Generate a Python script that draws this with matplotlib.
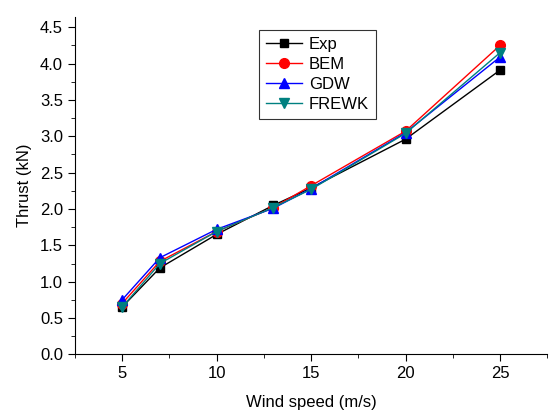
import matplotlib
matplotlib.use("Agg")
import matplotlib.pyplot as plt
from matplotlib.ticker import MultipleLocator, FormatStrFormatter

plt.rcParams['font.family'] = ['Liberation Sans', 'DejaVu Sans']

# Wind speed (m/s) and thrust (kN)
wind_speed = [5, 7, 10, 13, 15, 20, 25]
thrust_exp = [0.65, 1.19, 1.65, 2.05, 2.29, 2.96, 3.91]
thrust_bem = [0.70, 1.28, 1.69, 2.02, 2.32, 3.07, 4.25]
thrust_gdw = [0.75, 1.33, 1.72, 2.01, 2.28, 3.05, 4.09]
thrust_frewk = [0.65, 1.25, 1.69, 2.02, 2.27, 3.04, 4.15]

fig = plt.figure(figsize=(5.5, 4.16), dpi=100)
ax = fig.add_axes([0.136, 0.148, 0.859, 0.811])

ax.plot(wind_speed, thrust_exp, '-s', color='black', markersize=6, linewidth=1, label='Exp')
ax.plot(wind_speed, thrust_bem, '-o', color='red', markersize=7, linewidth=1, label='BEM')
ax.plot(wind_speed, thrust_gdw, '-^', color='blue', markersize=7, linewidth=1, label='GDW')
ax.plot(wind_speed, thrust_frewk, '-v', color='#008080', markersize=7, linewidth=1, label='FREWK')

ax.set_xlim(2.5, 27.5)
ax.set_ylim(0, 4.64)
ax.xaxis.set_major_locator(MultipleLocator(5))
ax.xaxis.set_minor_locator(MultipleLocator(2.5))
ax.yaxis.set_major_locator(MultipleLocator(0.5))
ax.yaxis.set_minor_locator(MultipleLocator(0.25))
ax.yaxis.set_major_formatter(FormatStrFormatter('%.1f'))

ax.spines['top'].set_visible(False)
ax.spines['right'].set_visible(False)
ax.tick_params(which='major', direction='out', length=5, labelsize=12)
ax.tick_params(which='minor', direction='out', length=3)

ax.set_xlabel('Wind speed (m/s)', fontsize=12, labelpad=10)
ax.set_ylabel('Thrust (kN)', fontsize=12, labelpad=6)

leg = ax.legend(loc='upper left', bbox_to_anchor=(0.39, 0.961), fontsize=12,
                frameon=True, fancybox=False, edgecolor='black',
                handlelength=2.2, handletextpad=0.4, borderpad=0.4,
                labelspacing=0.3, borderaxespad=0)
leg.get_frame().set_linewidth(0.8)

fig.savefig('out.png', dpi=100)
